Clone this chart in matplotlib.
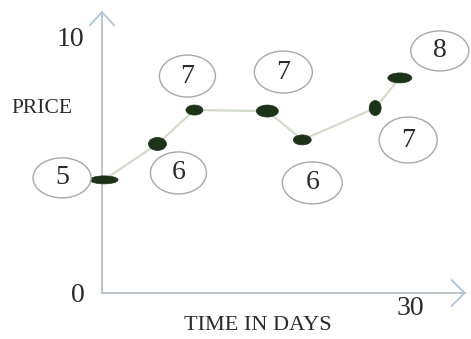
import numpy as np
import matplotlib
matplotlib.use("Agg")
import matplotlib.pyplot as plt
from matplotlib.patches import Ellipse

plt.rcParams['font.family'] = ['Liberation Serif', 'DejaVu Serif']

# Data (days, price) and the circled labels
days = [0.2, 5.4, 9.0, 16.1, 19.5, 26.6, 29.0]
prices = [4.47, 5.89, 7.23, 7.19, 6.05, 7.31, 8.5]
labels = ['5', '6', '7', '7', '6', '7', '8']

# Axis ends / tick labels
x_ticks = [30]
y_ticks = [0, 10]
x_title = "TIME IN DAYS"
y_title = "PRICE"

# Style: label bubble offsets (pixels) and marker sizes (pixels)
label_off = [(-42, 2), (21, -29), (-7, 34), (16, 39), (10, -43), (33, -32), (40, 27)]
bubble_size = [(58, 40), (56, 42), (56, 42), (58, 42), (60, 42), (58, 46), (58, 40)]
marker_size = [(28, 8), (18, 13), (17, 10), (22, 12), (18, 10), (12, 15), (24, 10)]

W, H = 471, 339
fig = plt.figure(figsize=(W / 100, H / 100), dpi=100)
ax = fig.add_axes([0, 0, 1, 1])
xmin, xmax = -9.93, 35.93
ymin, ymax = -1.82, 11.58
ax.set_xlim(xmin, xmax)
ax.set_ylim(ymin, ymax)
ax.axis('off')

# pixels per data unit
px = W / (xmax - xmin)
py = H / (ymax - ymin)

txt_col = '#2a2a2a'

# axes lines with open chevron arrowheads
axis_col = '#b8c0c6'
arrow_col = '#a9c6de'
ytop = 11.1
xend = 35.3
ax.plot([0, 0], [0, ytop], color=axis_col, lw=1.3, zorder=1)
ax.plot([0, xend], [0, 0], color=axis_col, lw=1.3, zorder=1)
ax.plot([-12 / px, 0, 12 / px], [ytop - 13 / py, ytop, ytop - 13 / py], color=arrow_col, lw=1.3, zorder=1)
ax.plot([xend - 13 / px, xend, xend - 13 / px], [13 / py, 0, -13 / py], color=arrow_col, lw=1.3, zorder=1)

# connecting line
ax.plot(days, prices, color='#d3dccb', lw=1.6, zorder=2)

# markers and label bubbles
for i in range(len(days)):
    mw, mh = marker_size[i]
    ax.add_patch(Ellipse((days[i], prices[i]), mw / px, mh / py,
                         fc='#1d3317', ec='#1d3317', lw=0.5, zorder=3))
    dx, dy = label_off[i]
    cx = days[i] + dx / px
    cy = prices[i] + dy / py
    bw, bh = bubble_size[i]
    ax.add_patch(Ellipse((cx, cy), bw / px, bh / py,
                         fc='white', ec='#a8a8a8', lw=1.0, zorder=4))
    ax.text(cx, cy, labels[i], fontsize=20, color=txt_col,
            ha='center', va='center', zorder=5)

# tick labels
ax.text(-2.34, y_ticks[0] - 0.12, str(y_ticks[0]), fontsize=20, color=txt_col, ha='center', va='center')
ax.text(-3.1, y_ticks[1], str(y_ticks[1]), fontsize=20, color=txt_col, ha='center', va='center')
ax.text(x_ticks[0], -0.63, str(x_ticks[0]), fontsize=20, color=txt_col, ha='center', va='center')

# titles
ax.text(-5.84, 7.31, y_title, fontsize=15.5, color=txt_col, ha='center', va='center')
ax.text(15.19, -1.30, x_title, fontsize=16, color=txt_col, ha='center', va='center')

plt.savefig('out.png', dpi=100)
